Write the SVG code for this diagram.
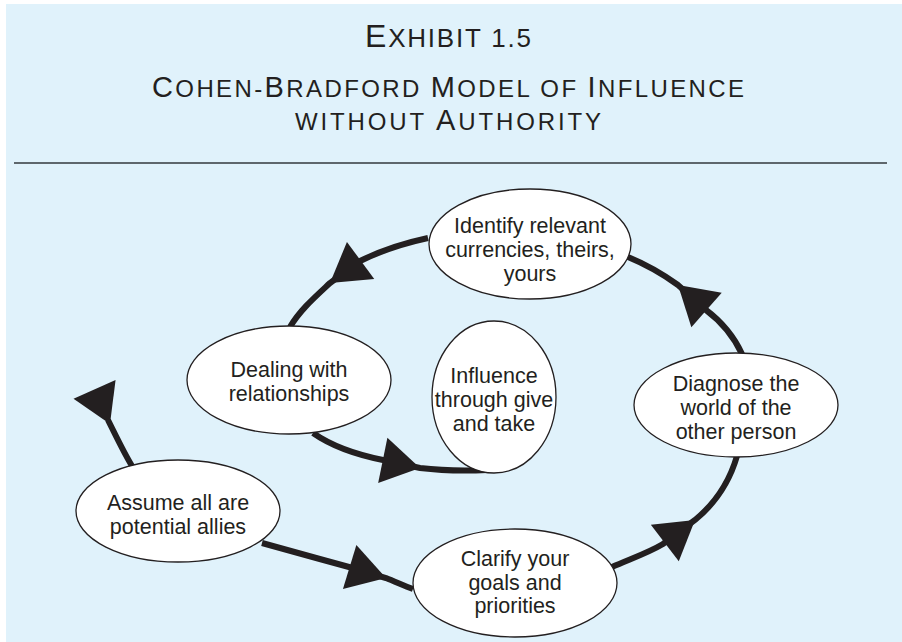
<svg xmlns="http://www.w3.org/2000/svg" width="902" height="642" viewBox="0 0 902 642">
  <defs>
    <style>
      .title { font-family: "Liberation Sans", Arial, sans-serif; fill: #231F20; text-anchor: middle; }
      .node ellipse { fill: #FFFFFF; stroke: #231F20; stroke-width: 1.3; }
      .node text { font-family: "Liberation Sans", Arial, sans-serif; font-size: 21.5px; fill: #231F20; text-anchor: middle; }
      .wire { fill: none; stroke: #231F20; stroke-width: 6; stroke-linecap: butt; }
      .head { fill: #231F20; }
    </style>
    <!-- arrowhead with its tip at the origin, pointing along +x -->
    <path id="arrowhead" d="M0,0 L-38,-23 L-38,23 Z"/>
  </defs>

  <rect x="6" y="4" width="896" height="638" fill="#E0F2FB"/>

  <!-- heading -->
  <g id="heading">
    <text class="title" x="448" y="47" textLength="166" lengthAdjust="spacing"><tspan font-size="32">E</tspan><tspan font-size="26">XHIBIT 1.5</tspan></text>
    <text class="title" x="448" y="97" textLength="592" lengthAdjust="spacing"><tspan font-size="29">C</tspan><tspan font-size="24">OHEN-</tspan><tspan font-size="29">B</tspan><tspan font-size="24">RADFORD </tspan><tspan font-size="29">M</tspan><tspan font-size="24">ODEL OF </tspan><tspan font-size="29">I</tspan><tspan font-size="24">NFLUENCE</tspan></text>
    <text class="title" x="448" y="130" textLength="306" lengthAdjust="spacing"><tspan font-size="24">WITHOUT </tspan><tspan font-size="29">A</tspan><tspan font-size="24">UTHORITY</tspan></text>
    <line x1="14" y1="163" x2="887" y2="163" stroke="#33383D" stroke-width="1.6"/>
  </g>

  <!-- connectors of the spiral -->
  <g id="connectors">
    <path class="wire" d="M108,420 C117,438 124,453 132,466"/>
    <path class="wire" d="M262,543 C290,551 320,559 349,567 L386,578 C396,582 405,586 413,589"/>
    <path class="wire" d="M612,567 C630,559 648,553 663,544 L695,520 C712,506 728,487 737,456"/>
    <path class="wire" d="M742,354 C735,339 722,322 706,310 L678,285 C660,272 645,264 628,257"/>
    <path class="wire" d="M428,238 C400,244 378,252 358,262 L330,283 C315,297 300,310 290,327"/>
    <path class="wire" d="M313,433 C333,447 358,455 383,460 L420,468 C445,471 465,471 487,470"/>

    <use href="#arrowhead" class="head" transform="translate(110,424) rotate(66)"/>
    <use href="#arrowhead" class="head" transform="translate(386,578) rotate(17)"/>
    <use href="#arrowhead" class="head" transform="translate(695,520) rotate(-37.4)"/>
    <use href="#arrowhead" class="head" transform="translate(678,285) rotate(-138.7)"/>
    <use href="#arrowhead" class="head" transform="translate(330,283) rotate(143.6)"/>
    <use href="#arrowhead" class="head" transform="translate(420,468) rotate(11.6)"/>
  </g>

  <g id="node-identify" class="node">
    <ellipse cx="530" cy="244" rx="101" ry="55"/>
    <text x="530" y="233">Identify relevant</text>
    <text x="530" y="257">currencies, theirs,</text>
    <text x="530" y="281">yours</text>
  </g>

  <g id="node-dealing" class="node">
    <ellipse cx="289" cy="380" rx="102" ry="54"/>
    <text x="289" y="377">Dealing with</text>
    <text x="289" y="401">relationships</text>
  </g>

  <g id="node-influence" class="node">
    <ellipse cx="494" cy="397" rx="62" ry="76"/>
    <text x="494" y="383">Influence</text>
    <text x="494" y="407">through give</text>
    <text x="494" y="431">and take</text>
  </g>

  <g id="node-diagnose" class="node">
    <ellipse cx="736" cy="405" rx="102" ry="52"/>
    <text x="736" y="391">Diagnose the</text>
    <text x="736" y="415">world of the</text>
    <text x="736" y="439">other person</text>
  </g>

  <g id="node-assume" class="node">
    <ellipse cx="178" cy="511" rx="102" ry="51"/>
    <text x="178" y="510">Assume all are</text>
    <text x="178" y="534">potential allies</text>
  </g>

  <g id="node-clarify" class="node">
    <ellipse cx="515" cy="583" rx="102" ry="54"/>
    <text x="515" y="566">Clarify your</text>
    <text x="515" y="590">goals and</text>
    <text x="515" y="613">priorities</text>
  </g>
</svg>
